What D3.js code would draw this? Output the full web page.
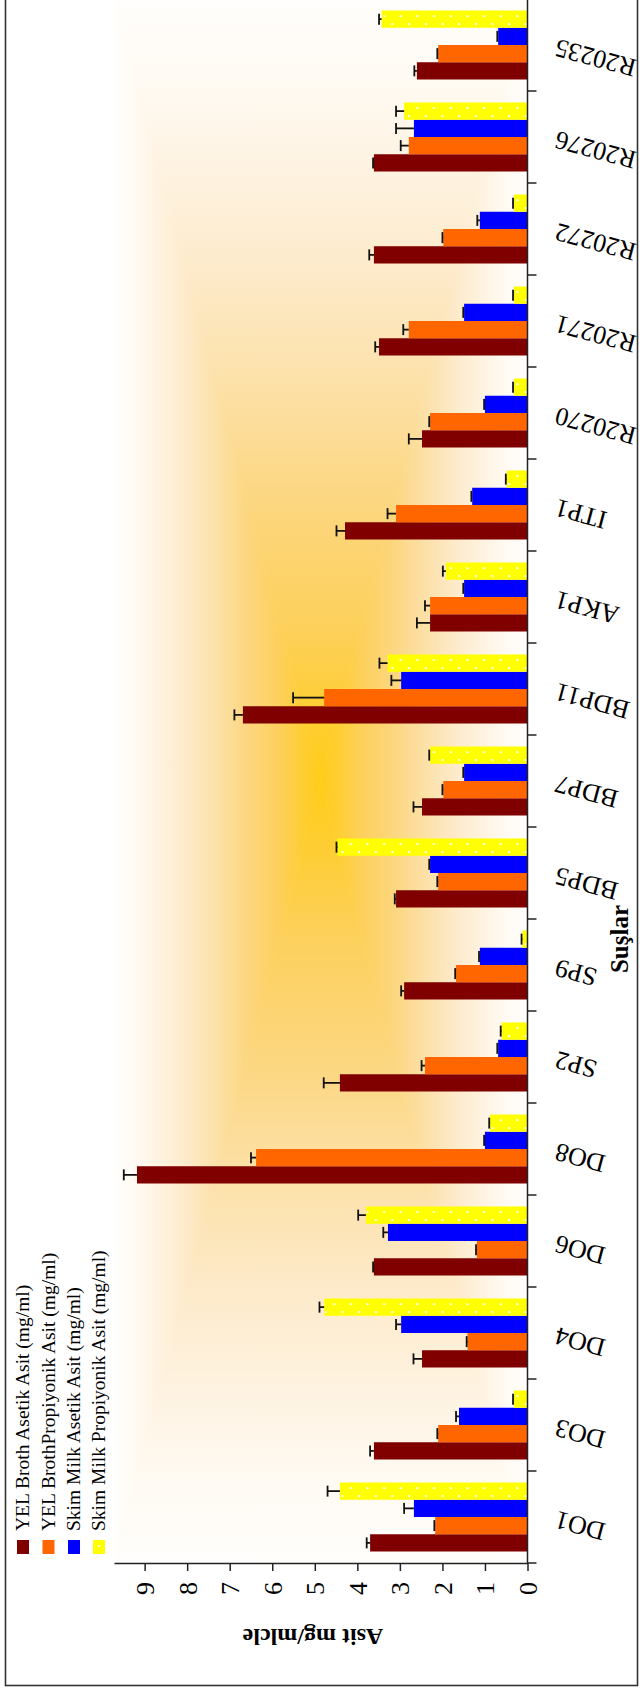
<!DOCTYPE html>
<html>
<head>
<meta charset="utf-8">
<script src="https://cdn.jsdelivr.net/npm/d3@7"></script>
<style>
  html, body { margin: 0; padding: 0; background: #fff; }
  svg { display: block; font-family: "Liberation Serif", "Times New Roman", serif; }
</style>
</head>
<body>
<svg id="chart" width="640" height="1691"></svg>
<script>
// Strains (category axis, listed from the axis origin outward)
const categories = ["DO1", "DO3", "DO4", "DO6", "DO8", "SP2", "SP9", "BDP5", "BDP7", "BDP11",
                    "AKP1", "ITP1", "R20270", "R20271", "R20272", "R20276", "R20235"];

const seriesNames = [
  "YEL Broth Asetik Asit (mg/ml)",
  "YEL BrothPropiyonik Asit (mg/ml)",
  "Skim Milk Asetik Asit (mg/ml)",
  "Skim Milk Propiyonik Asit (mg/ml)"
];

// Mean values (mg/ml) per strain
const yelAsetik      = [3.70, 3.61, 2.48, 3.61, 9.18, 4.41, 2.90, 3.09, 2.48, 6.69, 2.29, 4.29, 2.48, 3.49, 3.61, 3.61, 2.60];
const yelPropiyonik  = [2.17, 2.10, 1.41, 1.19, 6.38, 2.41, 1.68, 2.10, 1.98, 4.78, 2.29, 3.09, 2.29, 2.79, 1.98, 2.79, 2.10];
const skimAsetik     = [2.67, 1.61, 2.97, 3.28, 1.00, 0.69, 1.12, 2.29, 1.49, 2.97, 1.49, 1.30, 1.00, 1.49, 1.12, 2.67, 0.69];
const skimPropiyonik = [4.41, 0.32, 4.78, 3.80, 0.88, 0.61, 0.12, 4.47, 2.29, 3.29, 1.92, 0.49, 0.32, 0.32, 0.32, 2.90, 3.43];

// Standard deviations (drawn on the positive side only)
const yelAsetikErr      = [0.08, 0.09, 0.20, 0.02, 0.31, 0.38, 0.07, 0.03, 0.20, 0.20, 0.31, 0.20, 0.31, 0.09, 0.11, 0.02, 0.06];
const yelPropiyonikErr  = [0.02, 0.02, 0.02, 0.02, 0.12, 0.08, 0.02, 0.02, 0.02, 0.73, 0.12, 0.20, 0.02, 0.13, 0.02, 0.19, 0.02];
const skimAsetikErr     = [0.23, 0.07, 0.12, 0.11, 0.02, 0.02, 0.02, 0.02, 0.02, 0.23, 0.02, 0.02, 0.02, 0.02, 0.06, 0.42, 0.02];
const skimPropiyonikErr = [0.29, 0.02, 0.11, 0.18, 0.02, 0.02, 0.02, 0.02, 0.02, 0.19, 0.07, 0.02, 0.02, 0.02, 0.02, 0.19, 0.06];

const valueTicks = [0, 1, 2, 3, 4, 5, 6, 7, 8, 9];
const valueTitle = "Asit mg/mlcle";
const categoryTitle = "Suşlar";

// ---------------------------------------------------------------
const seriesValues = [yelAsetik, yelPropiyonik, skimAsetik, skimPropiyonik];
const seriesErrors = [yelAsetikErr, yelPropiyonikErr, skimAsetikErr, skimPropiyonikErr];
const colors = ["#800000", "#FF6600", "#0000FF", "#FFFF00"];

const svg = d3.select("#chart");
const defs = svg.append("defs");

// plot frame (the page is laid out sideways: values grow to the left)
const plot = { left: 114, right: 527.5, top: -1, bottom: 1563 };

const x = d3.scaleLinear().domain([0, 9.72]).range([plot.right, plot.left]);
const y = d3.scaleBand().domain(categories).range([plot.bottom, plot.top]);
const bw = y.bandwidth();
const ys = d3.scaleBand().domain(d3.range(seriesNames.length))
  .range([bw * 0.875, bw * 0.125]);

// outer frame
svg.append("rect")
  .attr("x", 5.5).attr("y", -5).attr("width", 632).attr("height", 1690.5)
  .attr("fill", "none").attr("stroke", "#333").attr("stroke-width", 1.6);

// ---- plot-area background: rectangular "from centre" gradient ----
const cx = (plot.left + plot.right) / 2, cy = (plot.top + plot.bottom) / 2;
const gradStops = [
  [1.00, "#FFFEFC"], [0.90, "#FFFAF3"], [0.80, "#FEF4E4"], [0.65, "#FDEACA"],
  [0.50, "#FCE0A6"], [0.35, "#FCD67E"], [0.20, "#FDD05C"], [0.10, "#FECE38"], [0.00, "#FFCC18"]
];
const sides = [
  { id: "gL", pts: [[plot.left, plot.top], [plot.left, plot.bottom], [cx, cy]], g: [plot.left, cy, cx, cy] },
  { id: "gR", pts: [[plot.right, plot.top], [plot.right, plot.bottom], [cx, cy]], g: [plot.right, cy, cx, cy] },
  { id: "gT", pts: [[plot.left, plot.top], [plot.right, plot.top], [cx, cy]], g: [cx, plot.top, cx, cy] },
  { id: "gB", pts: [[plot.left, plot.bottom], [plot.right, plot.bottom], [cx, cy]], g: [cx, plot.bottom, cx, cy] }
];
sides.forEach(s => {
  const lg = defs.append("linearGradient").attr("id", s.id)
    .attr("gradientUnits", "userSpaceOnUse")
    .attr("x1", s.g[0]).attr("y1", s.g[1]).attr("x2", s.g[2]).attr("y2", s.g[3]);
  gradStops.forEach(([t, c]) => lg.append("stop").attr("offset", 1 - t).attr("stop-color", c));
});
svg.append("g").selectAll("path").data(sides).join("path")
  .attr("d", s => "M" + s.pts.map(p => p.join(",")).join("L") + "Z")
  .attr("fill", s => `url(#${s.id})`)
  .attr("stroke", s => `url(#${s.id})`)
  .attr("stroke-width", 0.6);

// dotted fill for the skim-milk propionic series
const dotPat = defs.append("pattern").attr("id", "dots")
  .attr("patternUnits", "userSpaceOnUse")
  .attr("x", plot.right - 10 - 8.33).attr("y", plot.bottom)
  .attr("width", 16.67).attr("height", y.step());
const yTopOffset = ys(3);
dotPat.append("rect").attr("width", 16.67).attr("height", y.step()).attr("fill", "#FFFF00");
dotPat.append("circle").attr("cx", 8.33).attr("cy", yTopOffset + 5.6).attr("r", 1.2).attr("fill", "#FFFFF0");
dotPat.append("circle").attr("cx", 0).attr("cy", yTopOffset + 13.6).attr("r", 1.2).attr("fill", "#FFFFF0");
dotPat.append("circle").attr("cx", 16.67).attr("cy", yTopOffset + 13.6).attr("r", 1.2).attr("fill", "#FFFFF0");

// ---- bars ----
const rows = [];
categories.forEach((c, i) => {
  seriesValues.forEach((vals, s) => rows.push({ cat: c, s, v: vals[i], e: seriesErrors[s][i] }));
});

svg.append("g").selectAll("rect").data(rows).join("rect")
  .attr("x", d => x(d.v))
  .attr("y", d => y(d.cat) + ys(d.s))
  .attr("width", d => x(0) - x(d.v))
  .attr("height", ys.bandwidth())
  .attr("fill", d => d.s === 3 ? "url(#dots)" : colors[d.s]);

// ---- error bars ----
const eg = svg.append("g").attr("stroke", "#111").attr("stroke-width", 1.8);
eg.selectAll("line.stem").data(rows).join("line").attr("class", "stem")
  .attr("x1", d => x(d.v)).attr("x2", d => x(d.v + d.e))
  .attr("y1", d => y(d.cat) + ys(d.s) + ys.bandwidth() / 2)
  .attr("y2", d => y(d.cat) + ys(d.s) + ys.bandwidth() / 2);
eg.selectAll("line.cap").data(rows).join("line").attr("class", "cap")
  .attr("x1", d => x(d.v + d.e)).attr("x2", d => x(d.v + d.e))
  .attr("y1", d => y(d.cat) + ys(d.s) + ys.bandwidth() / 2 - 5.5)
  .attr("y2", d => y(d.cat) + ys(d.s) + ys.bandwidth() / 2 + 5.5);

// ---- value axis (runs horizontally along the bottom) ----
const xAxis = d3.axisBottom(x).tickValues(valueTicks).tickSize(8).tickSizeOuter(0).tickFormat(d3.format("d"));
const xg = svg.append("g").attr("transform", `translate(0,${plot.bottom})`).call(xAxis);
xg.select(".domain").attr("stroke", "#222").attr("stroke-width", 1.5);
xg.selectAll(".tick line").attr("stroke", "#222").attr("stroke-width", 1.5);
xg.selectAll(".tick text")
  .attr("transform", "rotate(-90)")
  .attr("x", -19).attr("y", 9).attr("dy", 0)
  .attr("text-anchor", "end")
  .attr("font-size", 26).attr("fill", "#000")
  .attr("font-family", "Liberation Serif, Times New Roman, serif");

svg.append("text")
  .attr("transform", `translate(${313},${1629}) rotate(180)`)
  .attr("text-anchor", "middle")
  .attr("font-size", 24).attr("font-weight", "bold")
  .text(valueTitle);

// ---- category axis (vertical line at zero) ----
const cg = svg.append("g");
cg.append("line")
  .attr("x1", plot.right).attr("x2", plot.right)
  .attr("y1", plot.top).attr("y2", plot.bottom)
  .attr("stroke", "#222").attr("stroke-width", 1.5);
const bounds = categories.map(c => y(c)).concat([plot.bottom]);
cg.selectAll("line.ctick").data(bounds).join("line").attr("class", "ctick")
  .attr("x1", plot.right).attr("x2", plot.right + 9)
  .attr("y1", d => d).attr("y2", d => d)
  .attr("stroke", "#222").attr("stroke-width", 1.5);

cg.selectAll("text").data(categories).join("text")
  .attr("transform", c => `translate(${558},${y(c) + bw / 2 - 6}) rotate(195)`)
  .attr("text-anchor", "end")
  .attr("font-size", 26)
  .text(c => c);

svg.append("text")
  .attr("transform", `translate(${628},${939}) rotate(-90)`)
  .attr("text-anchor", "middle")
  .attr("font-size", 25).attr("font-weight", "bold")
  .text(categoryTitle);

// ---- legend (rotated, reading upward) ----
const legendX = [23, 48.5, 74, 99];
const lg = svg.append("g").selectAll("g").data(seriesNames).join("g")
  .attr("transform", (d, i) => `translate(${legendX[i]},0)`);
lg.append("rect")
  .attr("x", -6).attr("y", 1540).attr("width", 12).attr("height", 14)
  .attr("fill", (d, i) => i === 3 ? "#FFFF00" : colors[i]);
lg.filter((d, i) => i === 3).append("circle")
  .attr("cx", 0).attr("cy", 1546).attr("r", 1.1).attr("fill", "#FFFFF0");
lg.append("text")
  .attr("transform", `translate(6,1531) rotate(-90)`)
  .attr("text-anchor", "start")
  .attr("font-size", 19.5)
  .text(d => d);
</script>
</body>
</html>
